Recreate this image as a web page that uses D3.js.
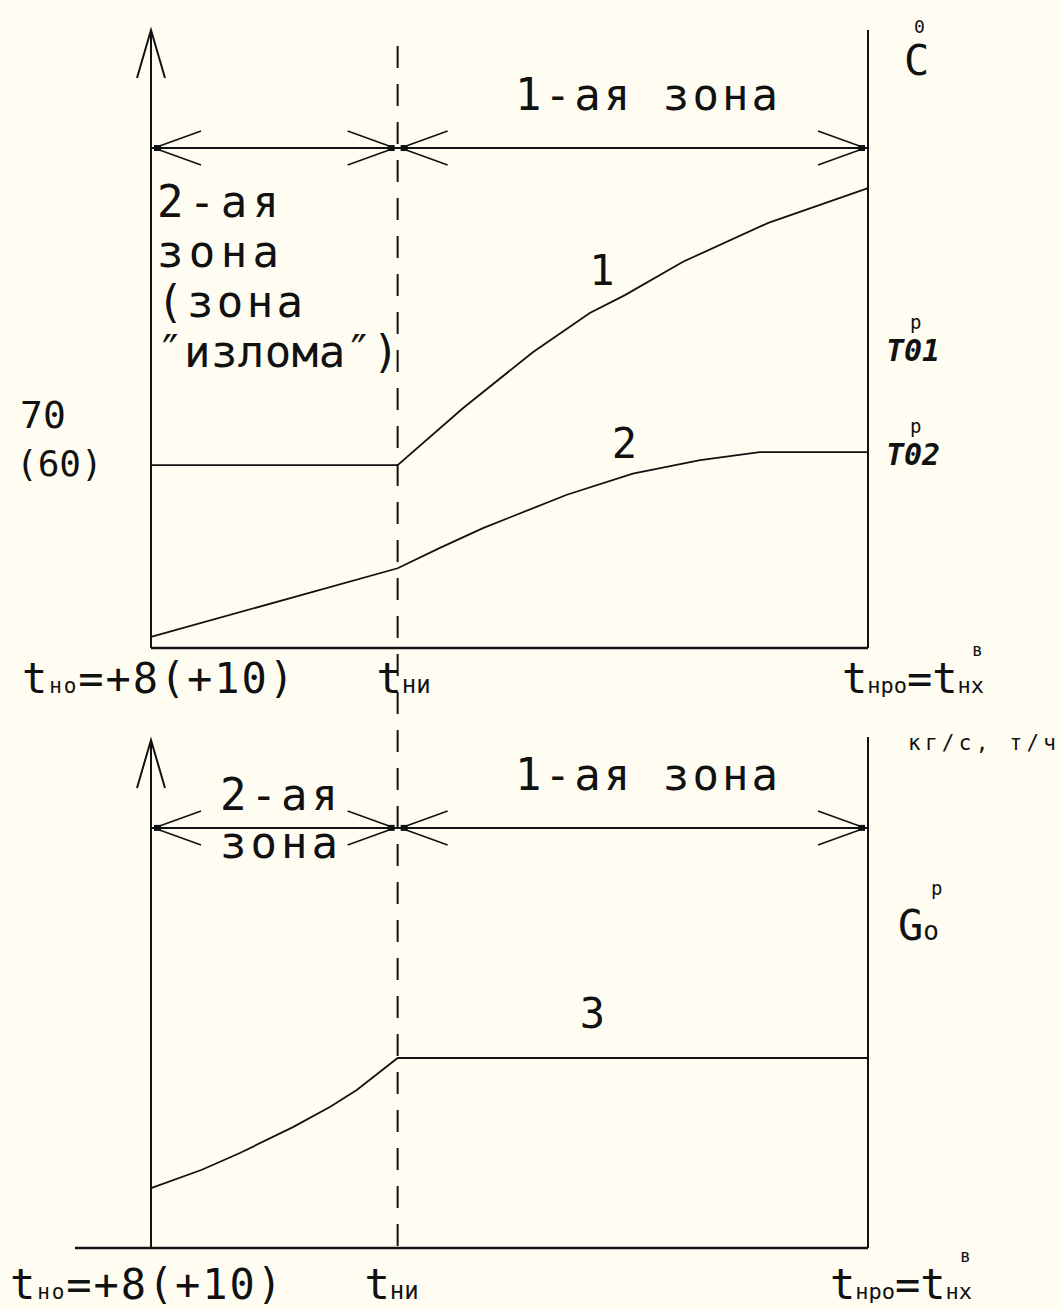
<!DOCTYPE html>
<html>
<head>
<meta charset="utf-8">
<script src="https://cdn.jsdelivr.net/npm/d3@7"></script>
<style>
  body { margin: 0; background: #fffdf2; }
  svg { display: block; }
  text { font-family: "DejaVu Sans Mono", monospace; fill: #111; }
</style>
</head>
<body>
<svg id="chart"></svg>
<script>
// outdoor temperature axis, relative units: t_но = 0, t_ни, t_нро = 100
const xStops = [0, 34.4, 100];
const xStopNames = ['tно', 'tни', 'tнро'];

// upper graph: supply (1) and return (2) water temperature, relative units
const curve1X = [0, 34.4, 43.5, 53.3, 61.2, 66.1, 74.2, 86.1, 100];
const curve1Y = [29.6, 29.6, 38.8, 47.9, 54.2, 57.1, 62.5, 68.8, 74.4];
const curve2X = [0, 34.4, 40.3, 46.3, 58.0, 67.2, 76.6, 84.9, 100];
const curve2Y = [1.8, 12.9, 16.2, 19.4, 24.8, 28.2, 30.4, 31.7, 31.7];

// lower graph: network water flow (3)
const curve3X = [0, 7.1, 12.4, 19.8, 25.0, 28.7, 34.4, 100];
const curve3Y = [11.8, 15.4, 18.7, 23.8, 27.8, 31.1, 37.4, 37.4];

// zones between the stops, and the level of the dimension lines
const zones = [[0, 34.4], [34.4, 100]];
const dimTop = 80.9, dimBot = 82.7;
const leftNote = ['2-ая', 'зона', '(зона', '″излома″)'];

const W = 1062, H = 1310;
const svg = d3.select('#chart').attr('width', W).attr('height', H);
svg.append('rect').attr('width', W).attr('height', H).attr('fill', '#fffdf2');

const x = d3.scaleLinear().domain([0, 100]).range([151, 868]);
const yTop = d3.scaleLinear().domain([0, 100]).range([648, 30]);
const yBot = d3.scaleLinear().domain([0, 100]).range([1248, 740]);

const g = svg.append('g').attr('fill', 'none').attr('stroke', '#111');

let seg = function(x1, y1, x2, y2, w) {
  return g.append('line')
    .attr('x1', x1).attr('y1', y1).attr('x2', x2).attr('y2', y2)
    .attr('stroke-width', w || 2);
};

// open arrowhead on dimension lines, dir = -1 points left, 1 points right
let chevron = function(xt, y, dir) {
  let len = 47, sp = 17;
  g.append('path')
    .attr('d', `M${xt - dir * len},${y - sp}L${xt},${y}L${xt - dir * len},${y + sp}`)
    .attr('stroke-width', 1.6);
  g.append('rect')
    .attr('x', xt - (dir > 0 ? 7 : 0)).attr('y', y - 3)
    .attr('width', 7).attr('height', 6)
    .attr('fill', '#111').attr('stroke', 'none');
};

let upArrow = function(xt, yt) {
  g.append('path')
    .attr('d', `M${xt - 14},${yt + 48}L${xt},${yt}L${xt + 14},${yt + 48}`)
    .attr('stroke-width', 2);
};

// ---- upper graph frame
seg(x(0), yTop(0), x(0), yTop(100));
upArrow(x(0), yTop(100));
seg(x(100), yTop(0), x(100), yTop(100));
seg(x(0), yTop(0), x(100), yTop(0), 2.5);

// ---- lower graph frame
seg(x(0), yBot(0), x(0), yBot(100));
upArrow(x(0), yBot(100));
seg(x(100), yBot(0), x(100), yBot(100.6));
seg(x(-10.6), yBot(0), x(100), yBot(0), 2.5);

// dashed line at t_ни through both graphs
seg(x(xStops[1]), yTop(97.4), x(xStops[1]), yBot(0), 2).attr('stroke-dasharray', '22,16');

// dimension lines with arrows
[yTop(dimTop), yBot(dimBot)].forEach(function(y) {
  seg(x(0), y, x(100), y, 2);
  zones.forEach(function(z) {
    chevron(x(z[0]) + 3, y, -1);
    chevron(x(z[1]) - 3, y, 1);
  });
});

// ---- curves
let line = function(ys) {
  return d3.line().x(d => x(d[0])).y(d => ys(d[1]));
};
let pts = (xs, ys) => xs.map((v, i) => [v, ys[i]]);

g.append('path').datum(pts(curve1X, curve1Y)).attr('d', line(yTop)).attr('stroke-width', 1.8);
g.append('path').datum(pts(curve2X, curve2Y)).attr('d', line(yTop)).attr('stroke-width', 1.8);
g.append('path').datum(pts(curve3X, curve3Y)).attr('d', line(yBot)).attr('stroke-width', 1.8);

// ---- texts
const t = svg.append('g');

let label = function(xp, yp, parts, anchor) {
  let el = t.append('text').attr('x', xp).attr('y', yp)
    .attr('text-anchor', anchor || 'start');
  parts.forEach(function(p) {
    el.append('tspan').attr('font-size', p[1]).text(p[0]);
  });
  return el;
};

label(515, 110, [['1-ая зона', 44]]).attr('textLength', 263);
label(515, 790, [['1-ая зона', 44]]).attr('textLength', 263);
label(220, 810, [['2-ая', 44]]).attr('textLength', 118);
label(220, 858, [['зона', 44]]).attr('textLength', 118);

leftNote.forEach(function(s, i) {
  let w = [122, 122, 146, 242][i];
  label(157, 217 + i * 50, [[s, 44]]).attr('textLength', w);
});

label(20, 428, [['70', 38]]);
label(16, 476, [['(60)', 36]]);

label(x(curve1X[3]) + 56, 285, [['1', 42]]);
label(x(curve2X[4]) + 45, 458, [['2', 42]]);
label(x(curve3X[6]) + 182, 1028, [['3', 42]]);

// unit labels on the right
label(914, 33, [['0', 18]]);
label(904, 75, [['C', 42]]);
label(908, 750, [['кг/с, т/ч', 21]]).attr('textLength', 148);

let tauLabel = function(yp, sub) {
  label(910, yp - 32, [['p', 19]]);
  label(886, yp, [['T' + sub, 30]])
    .attr('font-family', 'DejaVu Serif').attr('font-style', 'italic').attr('font-weight', 'bold');
};
tauLabel(361, '01');
tauLabel(465, '02');

label(931, 895, [['p', 19]]);
label(898, 940, [['G', 42], ['o', 26]]);

// x-axis labels under both graphs
let xLabelParts = [
  [['t', 42], ['но', 21], ['=+8(+10)', 42]],
  [['t', 42], ['ни', 24]],
  [['t', 42], ['нро', 22], ['=', 42], ['t', 42], ['нх', 22]]
];
let xLabelLen = [272, null, null];
let xLabelShift = [7, 6, 45];
[[693, 0], [1299, -12]].forEach(function(row) {
  xStops.forEach(function(s, i) {
    let el = label(x(s) + xLabelShift[i] + row[1], row[0], xLabelParts[i], 'middle');
    if (xLabelLen[i]) el.attr('textLength', xLabelLen[i]);
  });
  label(x(100) + 104 + row[1], row[0] - 37, [['в', 18]]);
});
</script>
</body>
</html>
